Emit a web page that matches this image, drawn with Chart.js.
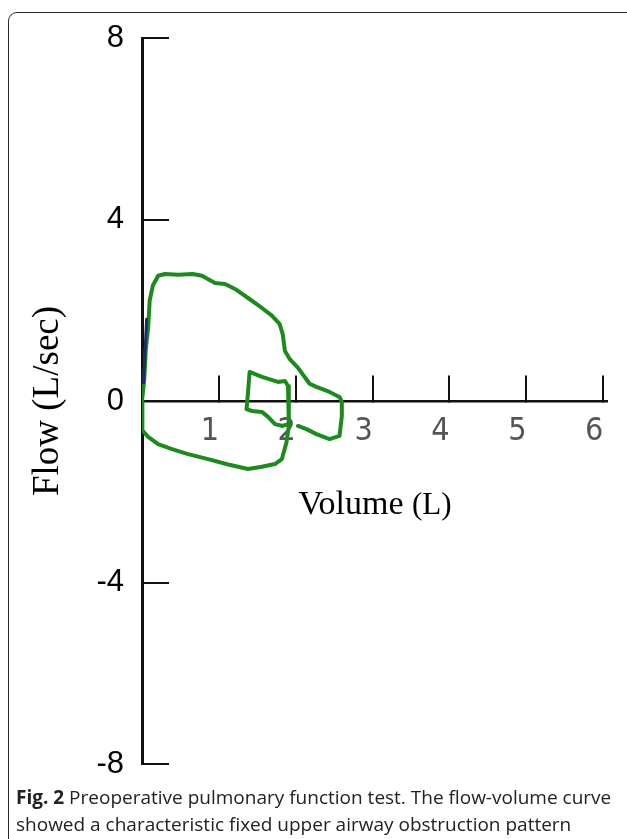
<!DOCTYPE html>
<html>
<head>
<meta charset="utf-8">
<script src="https://cdn.jsdelivr.net/npm/chart.js@4/dist/chart.umd.min.js"></script>
<style>
  html, body { margin:0; padding:0; background:#fff; }
  body { width:627px; height:839px; position:relative; overflow:hidden; }
  #frame { position:absolute; left:8px; top:12px; width:650px; height:860px; border:1.5px solid #2a2a2a; border-radius:9px; box-sizing:border-box; }
  #c { position:absolute; left:0; top:0; }
  #xtitle { position:absolute; left:0; width:750px; top:484px; text-align:center; font-family:"Liberation Serif","Times New Roman",serif; font-size:34px; line-height:38px; color:#000; }
  #caption { position:absolute; left:16px; top:784px; width:611px; font-family:"Open Sans",sans-serif; font-size:19px; line-height:27px; color:#222; white-space:nowrap; }
</style>
</head>
<body>
<div id="frame"></div>
<canvas id="c" width="627" height="800"></canvas>
<div id="xtitle">Volume <span style="font-size:31px">(L)</span></div>
<div id="caption"><b>Fig. 2</b> Preoperative pulmonary function test. The flow-volume curve<br>showed a characteristic fixed upper airway obstruction pattern</div>
<script>
// ---- data ----
const volumeTicks = [1, 2, 3, 4, 5, 6];
const flowTicks = [-8, -4, 0, 4, 8];

// main loop: expiration + right lobe
const loopA_volume = [0, 0.03, 0.05, 0.08, 0.10, 0.14, 0.21, 0.30, 0.47, 0.66, 0.78, 0.95, 1.08, 1.21, 1.38, 1.56, 1.69, 1.79, 1.83, 1.86, 1.92, 2.03, 2.18, 2.27, 2.44, 2.57, 2.60, 2.60, 2.57, 2.44, 2.27, 2.14, 2.03];
const loopA_flow   = [0, 0.49, 1.15, 1.61, 2.21, 2.54, 2.76, 2.80, 2.78, 2.80, 2.76, 2.60, 2.58, 2.47, 2.27, 2.05, 1.88, 1.70, 1.48, 1.10, 0.93, 0.73, 0.38, 0.31, 0.20, 0.09, -0.02, -0.33, -0.77, -0.84, -0.73, -0.62, -0.55];

// small loop + inspiratory limb back to origin
const loopB_volume = [1.90, 1.83, 1.73, 1.64, 1.56, 1.43, 1.36, 1.38, 1.40, 1.56, 1.77, 1.86, 1.90, 1.91, 1.91, 1.88, 1.82, 1.73, 1.56, 1.38, 1.12, 0.86, 0.60, 0.39, 0.21, 0.08, 0.01, 0.01, 0];
const loopB_flow   = [-0.51, -0.55, -0.51, -0.35, -0.24, -0.22, -0.18, 0.20, 0.64, 0.53, 0.42, 0.44, 0.33, -0.07, -0.55, -0.91, -1.28, -1.39, -1.45, -1.50, -1.40, -1.28, -1.17, -1.06, -0.95, -0.79, -0.66, -0.29, 0];

// dark initial rise trace near the flow axis
const rise_volume = [0.02, 0.04, 0.06];
const rise_flow   = [0.40, 1.10, 1.80];

function pts(xs, ys) { return xs.map((v, i) => ({ x: v, y: ys[i] })); }

const green = '#1d8a1d';
const lineDs = (data, color, w) => ({
  data, showLine: true, borderColor: color, backgroundColor: color,
  borderWidth: w, pointRadius: 0, tension: 0, fill: false,
  borderCapStyle: 'round', borderJoinStyle: 'round'
});

new Chart(document.getElementById('c'), {
  type: 'scatter',
  data: {
    datasets: [
      lineDs(pts(rise_volume, rise_flow), '#1c2a66', 3),
      lineDs(pts(loopA_volume, loopA_flow), green, 4),
      lineDs(pts(loopB_volume, loopB_flow), green, 4)
    ]
  },
  options: {
    responsive: false,
    animation: false,
    layout: { padding: { top: 38, right: 20, bottom: 36, left: 0 } },
    plugins: { legend: { display: false }, tooltip: { enabled: false } },
    scales: {
      x: {
        type: 'linear',
        position: { y: 0 },
        min: 0, max: 6.05,
        afterBuildTicks: s => { s.ticks = volumeTicks.map(v => ({ value: v })); },
        afterFit: s => { s.height = 0; s.paddingLeft = 0; s.paddingRight = 0; },
        grid: { drawOnChartArea: false, drawTicks: true, tickLength: -27, color: '#111', lineWidth: 2 },
        border: { display: true, color: '#111', width: 2.5 },
        ticks: {
          autoSkip: false, maxRotation: 0, padding: 38, labelOffset: -9,
          color: '#555', font: { family: '"Liberation Sans Narrow","DejaVu Sans Condensed",sans-serif', size: 32 }
        }
      },
      y: {
        type: 'linear',
        position: 'left',
        min: -8, max: 8,
        afterBuildTicks: s => { s.ticks = flowTicks.map(v => ({ value: v })); },
        afterFit: s => { s.width = 142; s.paddingTop = 0; s.paddingBottom = 0; },
        grid: { drawOnChartArea: false, drawTicks: true, tickLength: -27, color: '#111', lineWidth: 2 },
        border: { display: true, color: '#111', width: 3 },
        ticks: {
          padding: 45, color: '#000',
          font: { family: '"Liberation Sans",Arial,sans-serif', size: 31 }
        },
        title: {
          display: true, text: 'Flow (L/sec)', color: '#000',
          font: { family: '"Liberation Serif","Times New Roman",serif', size: 37 },
          padding: { top: 26, bottom: 0 }
        }
      }
    }
  }
});
</script>
</body>
</html>
